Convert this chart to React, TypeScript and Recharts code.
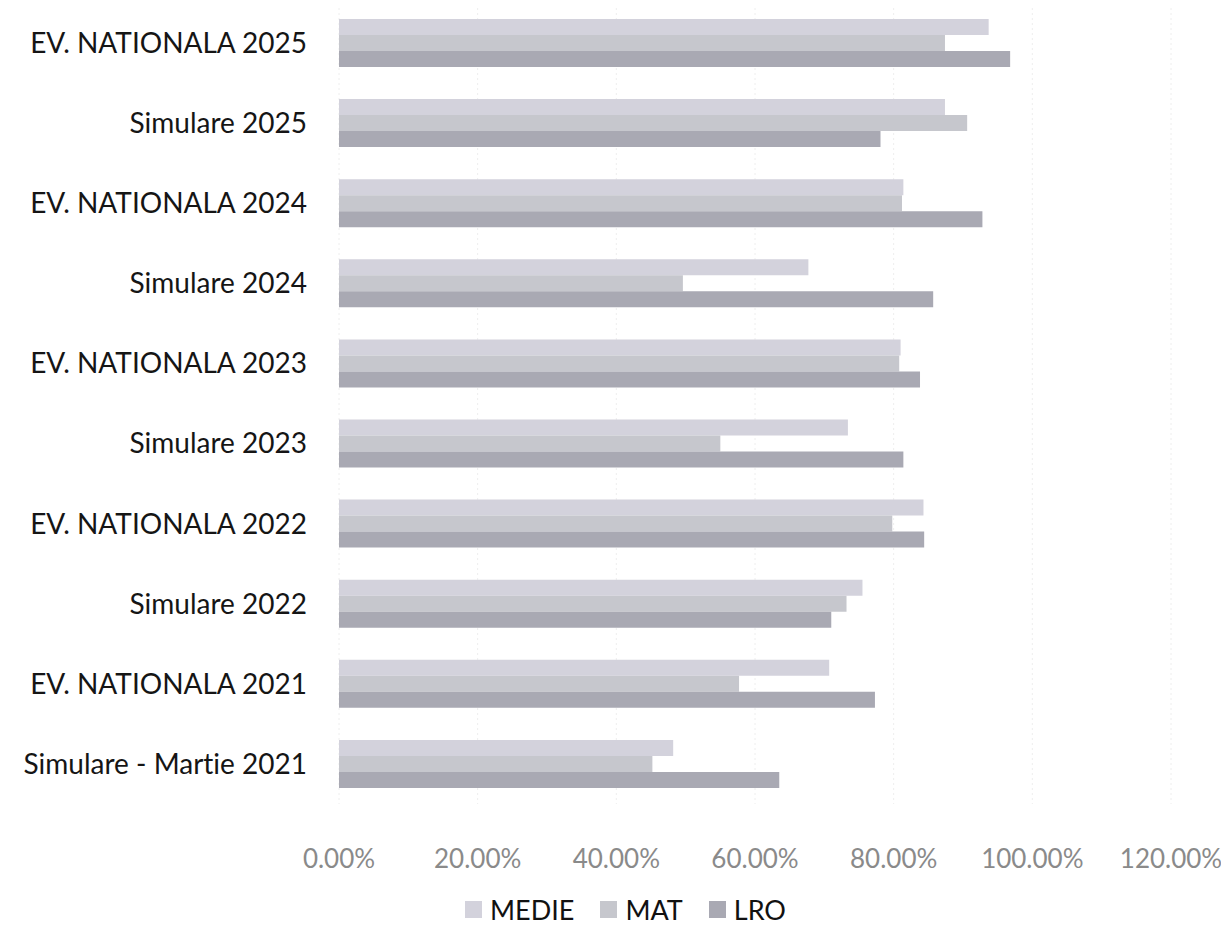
import { BarChart, Bar, XAxis, YAxis, CartesianGrid } from "recharts";

const categories = [
    "EV. NATIONALA 2025",
    "Simulare 2025",
    "EV. NATIONALA 2024",
    "Simulare 2024",
    "EV. NATIONALA 2023",
    "Simulare 2023",
    "EV. NATIONALA 2022",
    "Simulare 2022",
    "EV. NATIONALA 2021",
    "Simulare - Martie 2021",
];

const medie = [93.7, 87.4, 81.4, 67.7, 81.0, 73.4, 84.3, 75.5, 70.7, 48.2];
const mat = [87.4, 90.6, 81.2, 49.6, 80.8, 55.0, 79.8, 73.2, 57.7, 45.2];
const lro = [96.8, 78.1, 92.8, 85.7, 83.8, 81.4, 84.4, 71.0, 77.3, 63.5];

const xTicks = [0, 20, 40, 60, 80, 100, 120];

const series = [
    { key: "medie", name: "MEDIE", color: "#d3d2dc" },
    { key: "mat", name: "MAT", color: "#c6c7cd" },
    { key: "lro", name: "LRO", color: "#a9a9b3" },
];

const data = categories.map((name, i) => ({
    name,
    medie: medie[i],
    mat: mat[i],
    lro: lro[i],
}));

const font = "Lato, 'Noto Sans', sans-serif";

const App = () => {
    return (
        <div
            style={{
                margin: -8,
                width: 1229,
                height: 940,
                background: "#fff",
                fontFamily: font,
                position: "relative",
                fontVariantLigatures: "none",
            }}
        >
            <BarChart
                width={1229}
                height={880}
                data={data}
                layout="vertical"
                margin={{ top: 3, right: 58, bottom: 0, left: 0 }}
                barCategoryGap="20%"
                barGap={0}
            >
                <CartesianGrid vertical horizontal={false} stroke="#eeeeee" strokeDasharray="2 3" />
                <XAxis
                    type="number"
                    domain={[0, 120]}
                    ticks={xTicks}
                    tickFormatter={(v: number) => v.toFixed(2) + "%"}
                    tick={{ fontSize: 26, fill: "#8a8a8a", fontFamily: font }}
                    tickLine={false}
                    axisLine={false}
                    tickMargin={40}
                    height={76}
                />
                <YAxis
                    type="category"
                    dataKey="name"
                    width={339}
                    tick={{ fontSize: 28, fill: "#151515", fontFamily: font }}
                    tickLine={false}
                    axisLine={false}
                    tickMargin={26}
                    interval={0}
                />
                {series.map((s) => (
                    <Bar key={s.key} dataKey={s.key} name={s.name} fill={s.color} isAnimationActive={false} />
                ))}
            </BarChart>
            <div
                style={{
                    position: "absolute",
                    top: 893,
                    left: 0,
                    width: 1229,
                    display: "flex",
                    justifyContent: "center",
                    gap: 26,
                    paddingLeft: 22,
                    boxSizing: "border-box",
                }}
            >
                {series.map((s) => (
                    <span key={s.key} style={{ display: "flex", alignItems: "center", gap: 8, fontSize: 27, color: "#111" }}>
                        <span style={{ width: 17, height: 17, background: s.color, display: "inline-block" }} />
                        {s.name}
                    </span>
                ))}
            </div>
        </div>
    );
};

export default App;
